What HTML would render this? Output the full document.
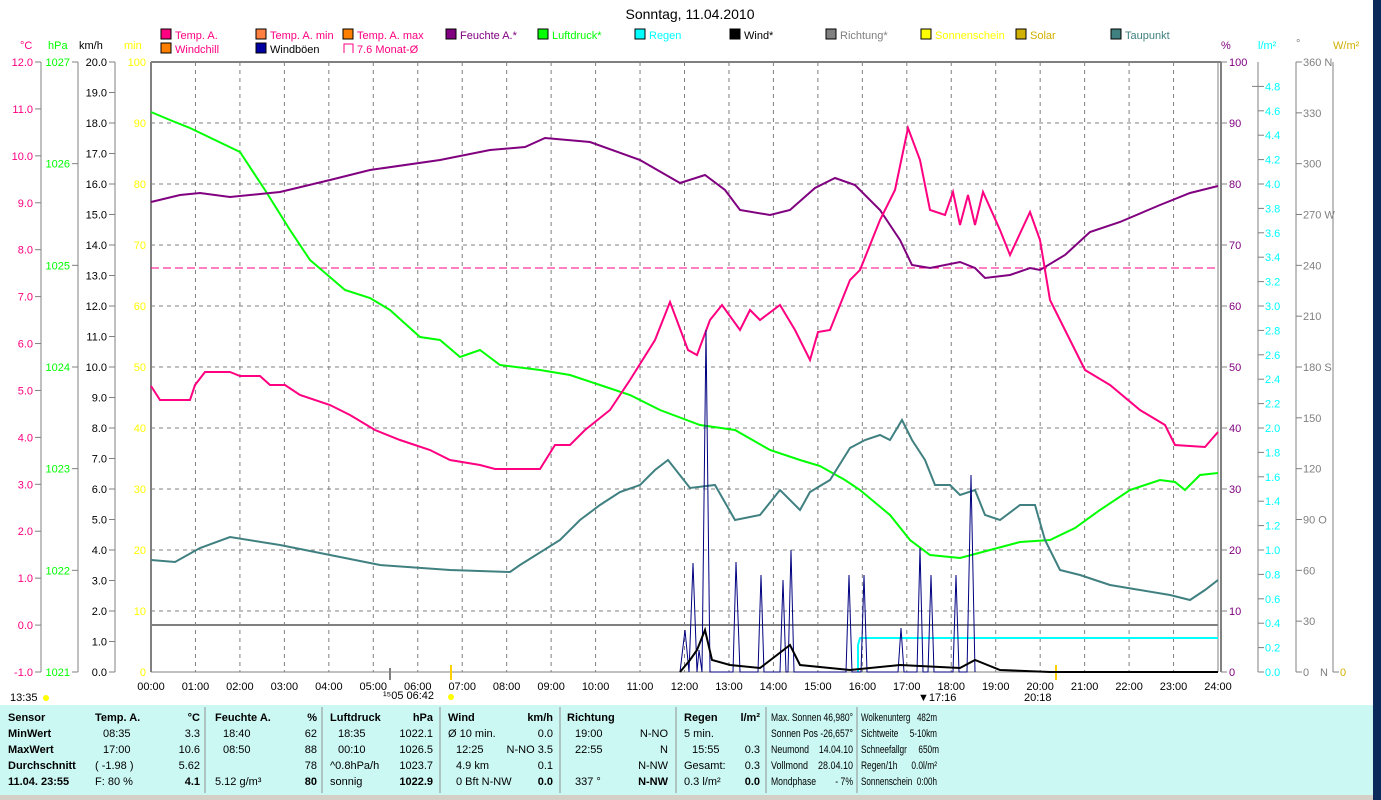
<!DOCTYPE html>
<html><head><meta charset="utf-8"><style>
body{margin:0;width:1381px;height:800px;overflow:hidden;background:#fff;font-family:"Liberation Sans",sans-serif}
svg{position:absolute;left:0;top:0}
text{font-family:"Liberation Sans",sans-serif;font-size:11px}
</style></head><body>
<svg id="s" width="1381" height="800" xmlns="http://www.w3.org/2000/svg">
<rect x="0" y="0" width="1381" height="800" fill="#fff"/>
<g id="g"></g>
<text x="690" y="19" text-anchor="middle" style="font-size:14px">Sonntag, 11.04.2010</text>
<line x1="151" y1="268" x2="1218" y2="268" stroke="#ff0080" stroke-dasharray="8,4" stroke-width="1"/>
<line x1="151" y1="625" x2="1218" y2="625" stroke="#808080" stroke-width="2"/>
<polyline fill="none" stroke="#00ffff" stroke-width="2" points="858,672 858,645 860,638 1218,638"/>
<polyline fill="none" stroke="#00ff00" stroke-width="2" points="151,112 170,120 190,128 215,140 240,152 265,190 290,230 310,260 345,290 370,298 390,310 420,337 440,340 460,357 480,350 500,365 540,370 570,375 600,385 630,395 660,410 700,425 735,430 770,450 800,460 820,466 845,480 860,490 890,515 910,540 930,555 960,558 990,550 1020,542 1050,540 1075,528 1100,510 1130,490 1160,480 1175,482 1185,490 1200,475 1218,473"/>
<polyline fill="none" stroke="#800080" stroke-width="2" points="151,202 180,195 200,193 230,197 280,192 330,180 370,170 440,160 490,150 525,147 545,138 590,142 640,160 680,183 705,175 725,190 740,210 770,215 790,210 815,188 835,178 855,185 880,210 900,240 912,265 930,268 960,262 975,268 985,278 1010,275 1030,268 1040,270 1065,255 1090,232 1120,222 1160,205 1190,193 1218,186"/>
<polyline fill="none" stroke="#ff0080" stroke-width="2" points="151,386 160,400 190,400 195,385 205,372 230,372 240,376 260,376 270,385 285,385 300,395 330,405 350,415 375,430 400,440 430,450 450,460 480,465 495,469 540,469 555,445 570,445 585,430 610,410 630,380 655,340 670,302 688,350 697,355 710,320 722,305 740,330 750,310 760,320 780,305 795,330 810,360 818,332 830,330 850,280 860,270 880,220 895,190 908,128 920,160 930,210 945,215 953,192 960,225 968,195 975,225 983,192 1000,230 1010,255 1030,212 1040,240 1050,300 1070,340 1085,370 1110,385 1140,410 1165,425 1175,445 1205,447 1218,432"/>
<polyline fill="none" stroke="#408080" stroke-width="2" points="151,560 175,562 200,548 230,537 280,545 330,555 380,565 450,570 510,572 520,565 560,540 580,520 600,505 620,492 640,485 655,470 668,460 690,488 715,485 735,520 760,515 780,490 800,510 810,492 830,480 850,448 865,440 880,435 890,440 902,420 912,440 925,460 935,485 950,485 960,495 975,490 985,515 1000,520 1020,505 1035,505 1045,540 1060,570 1080,575 1110,585 1140,590 1170,595 1190,600 1205,590 1218,580"/>
<polyline fill="none" stroke="#000080" stroke-width="1" points="680,672 685,630 689,672 693,563 697,672 699,650 702,672 706,330 710,672 733,672 736,562 740,672 758,672 761,575 764,672 780,672 783,580 786,672 788,672 791,550 794,672 846,672 849,575 852,672 861,672 864,575 867,672 898,672 901,628 904,672 917,672 920,548 923,672 928,672 931,575 934,672 953,672 956,575 959,672 967,672 971,475 975,672"/>
<polyline fill="none" stroke="#000" stroke-width="2" points="680,672 690,660 697,650 705,630 712,660 730,665 760,668 790,645 800,665 850,670 900,665 960,668 975,660 1000,670 1050,672 1218,672"/>
<rect x="0" y="705" width="1373" height="90" fill="#ccf8f4"/>
<rect x="0" y="795" width="1373" height="5" fill="#d4d0c8"/>
<rect x="1373" y="0" width="8" height="800" fill="#0a2a5c"/>
<g id="tb"></g>
</svg>
<script>
const NS="http://www.w3.org/2000/svg",g=document.getElementById('g');
function el(t,a,txt,p){const e=document.createElementNS(NS,t);for(const k in a)e.setAttribute(k,a[k]);if(txt!=null)e.textContent=txt;(p||g).appendChild(e);return e;}
const T=62,B=672,L=151,R=1218;
for(let h=1;h<24;h++){const x=L+(R-L)*h/24;el('line',{x1:x,y1:T,x2:x,y2:B,stroke:'#808080','stroke-dasharray':'4,4'});}
for(let i=1;i<10;i++){const y=B-(B-T)*i/10;el('line',{x1:L,y1:y,x2:R,y2:y,stroke:'#808080','stroke-dasharray':'4,4'});}
el('line',{x1:L,y1:T,x2:R+3,y2:T,stroke:'#808080','stroke-width':2});
el('line',{x1:L,y1:T,x2:L,y2:B,stroke:'#808080','stroke-width':2});
el('line',{x1:R,y1:T,x2:R,y2:B,stroke:'#808080','stroke-width':1});
el('line',{x1:R+3,y1:T,x2:R+3,y2:B,stroke:'#808080','stroke-width':2});
el('line',{x1:L,y1:B,x2:R,y2:B,stroke:'#808080'});
for(let h=0;h<=24;h++){const x=L+(R-L)*h/24;el('text',{x:x,y:690,'text-anchor':'middle'},(h<10?'0':'')+h+':00');}
function axis(x,n,lab,col){el('line',{x1:x,y1:T,x2:x,y2:B,stroke:'#808080'});
 for(let i=0;i<=n;i++){const y=B-(B-T)*i/n;const v=lab(i);
 el('line',{x1:x-6,y1:y,x2:x,y2:y,stroke:'#808080'});
 el('text',{x:x-8,y:y+4,fill:col,'text-anchor':'end'},v);}}
axis(41,13,i=>(i-1).toFixed(1),'#ff0080');
axis(78,6,i=>String(1021+i),'#00ff00');
axis(115,20,i=>i.toFixed(1),'#000');
for(let i=0;i<=10;i++){const y=B-(B-T)*i/10;el('text',{x:146,y:y+4,fill:'#ffff00','text-anchor':'end'},i==0?'0':String(i*10));}
el('text',{x:20,y:49,fill:'#ff0080'},'°C');el('text',{x:48,y:49,fill:'#00ff00'},'hPa');el('text',{x:79,y:49},'km/h');el('text',{x:124,y:49,fill:'#ffff00'},'min');
for(let i=0;i<=10;i++){const y=B-(B-T)*i/10;el('line',{x1:R+3,y1:y,x2:R+9,y2:y,stroke:'#808080'});el('text',{x:R+11,y:y+4,fill:'#800080'},i==0?'0':String(i*10));}
el('line',{x1:1258,y1:T,x2:1258,y2:B,stroke:'#808080'});
for(let i=0;i<=24;i++){const y=B-24.4*i;el('line',{x1:i==24?1252:1258,y1:y,x2:1264,y2:y,stroke:'#808080'});el('text',{x:1265,y:y+4,fill:'#00ffff'},(i/5).toFixed(1));}
el('line',{x1:1296,y1:T,x2:1296,y2:B,stroke:'#808080'});
const dn={90:' O',180:' S',270:' W',360:' N'};
for(let i=0;i<=12;i++){const y=B-(B-T)*i/12;el('line',{x1:1296,y1:y,x2:1302,y2:y,stroke:'#808080'});el('text',{x:1303,y:y+4,fill:'#808080'},String(i*30)+(dn[i*30]||''));}
el('text',{x:1320,y:676,fill:'#808080'},'N');
el('line',{x1:1333,y1:T,x2:1333,y2:B,stroke:'#808080'});el('line',{x1:1333,y1:B,x2:1339,y2:B,stroke:'#808080'});
el('text',{x:1340,y:676,fill:'#d0b000'},'0');
el('text',{x:1221,y:49,fill:'#800080'},'%');el('text',{x:1258,y:49,fill:'#00ffff'},'l/m²');el('text',{x:1296,y:47,fill:'#808080'},'°');el('text',{x:1333,y:49,fill:'#d0b000'},'W/m²');
const lg=[[161,38,'#ff0080','Temp. A.','#ff0080'],[256,38,'#ff8040','Temp. A. min','#ff0080'],[343,38,'#ff8000','Temp. A. max','#ff0080'],[446,38,'#800080','Feuchte A.*','#800080'],[538,38,'#00ff00','Luftdruck*','#00ff00'],[635,38,'#00ffff','Regen','#00ffff'],[730,38,'#000','Wind*','#000'],[826,38,'#808080','Richtung*','#808080'],[921,38,'#ffff00','Sonnenschein','#ffff00'],[1016,38,'#d0b000','Solar','#d0b000'],[1111,38,'#408080','Taupunkt','#408080'],[161,52,'#ff8000','Windchill','#ff0080'],[256,52,'#0000a0','Windböen','#000']];
lg.forEach(a=>{el('rect',{x:a[0],y:a[1]-9,width:10,height:10,fill:a[2],stroke:'#000'});el('text',{x:a[0]+14,y:a[1]+1,fill:a[4]},a[3]);});
el('path',{d:'M344,53 V44 H353 V53',fill:'none',stroke:'#ff0080'});el('text',{x:357,y:53,fill:'#ff0080'},'7.6 Monat-Ø');
el('text',{x:10,y:701},'13:35');el('circle',{cx:46,cy:698,r:3,fill:'#ffff00'});
el('text',{x:383,y:699},'¹⁵05  06:42');el('circle',{cx:451,cy:697,r:3,fill:'#ffff00'});
el('text',{x:918,y:701},'▼17:16');el('text',{x:1024,y:701},'20:18');
el('line',{x1:451,y1:665,x2:451,y2:680,stroke:'#ffd000','stroke-width':2});el('line',{x1:1056,y1:665,x2:1056,y2:680,stroke:'#ffd000','stroke-width':2});
el('line',{x1:390,y1:668,x2:390,y2:680,stroke:'#808080','stroke-width':2});
const tb=document.getElementById('tb');
function t(x,y,s,b,anc){return el('text',{x:x,y:y,'font-weight':b?'bold':'normal','text-anchor':anc||'start'},s,tb);}
[205,322,440,560,676,766,857].forEach(x=>el('line',{x1:x,y1:707,x2:x,y2:793,stroke:'#909090'},null,tb));
const ys=[721,737,753,769,785];
const cols=[
 [8,null,['Sensor','MinWert','MaxWert','Durchschnitt','11.04. 23:55'],[1,1,1,1,1]],
 [95,200,['Temp. A.','  08:35','  17:00',' ( -1.98 )',' F: 80 %'],[1,0,0,0,0],['°C','3.3','10.6','5.62','4.1']],
 [215,317,['Feuchte A.','  18:40','  08:50','',' 5.12 g/m³'],[1,0,0,0,0],['%','62','88','78','80']],
 [330,433,['Luftdruck','  18:35','  00:10','^0.8hPa/h','sonnig'],[1,0,0,0,0],['hPa','1022.1','1026.5','1023.7','1022.9']],
 [448,553,['Wind','Ø 10 min.','  12:25','  4.9 km','  0 Bft N-NW'],[1,0,0,0,0],['km/h','0.0','N-NO 3.5','0.1','0.0']],
 [567,668,['Richtung','  19:00','  22:55','','  337 °'],[1,0,0,0,0],['','N-NO','N','N-NW','N-NW']],
 [684,760,['Regen','5 min.','  15:55','Gesamt:',' 0.3 l/m²'],[1,0,0,0,0],['l/m²','','0.3','0.3','0.0']],
];
cols.forEach(c=>{c[2].forEach((s,i)=>{t(c[0]+(s.startsWith('  ')?8:0),ys[i],s.trim(),c[3][i]);});
 if(c[4])c[4].forEach((s,i)=>t(c[1],ys[i],s,i==0||i==4,'end'));});
const A=['Max. Sonnen 46,980°','Sonnen Pos -26,657°','Neumond    14.04.10','Vollmond    28.04.10','Mondphase        - 7%'];
const Bv=['Wolkenunterg   482m','Sichtweite     5-10km','Schneefallgr     650m','Regen/1h      0.0l/m²','Sonnenschein  0:00h'];
A.forEach((s,i)=>{const e=t(771,ys[i],s);e.setAttribute('textLength',82);e.setAttribute('lengthAdjust','spacingAndGlyphs');e.style.whiteSpace='pre';});
Bv.forEach((s,i)=>{const e=t(861,ys[i],s);e.setAttribute('textLength',i==2?78:76);e.setAttribute('lengthAdjust','spacingAndGlyphs');e.style.whiteSpace='pre';});
</script>
</body></html>
